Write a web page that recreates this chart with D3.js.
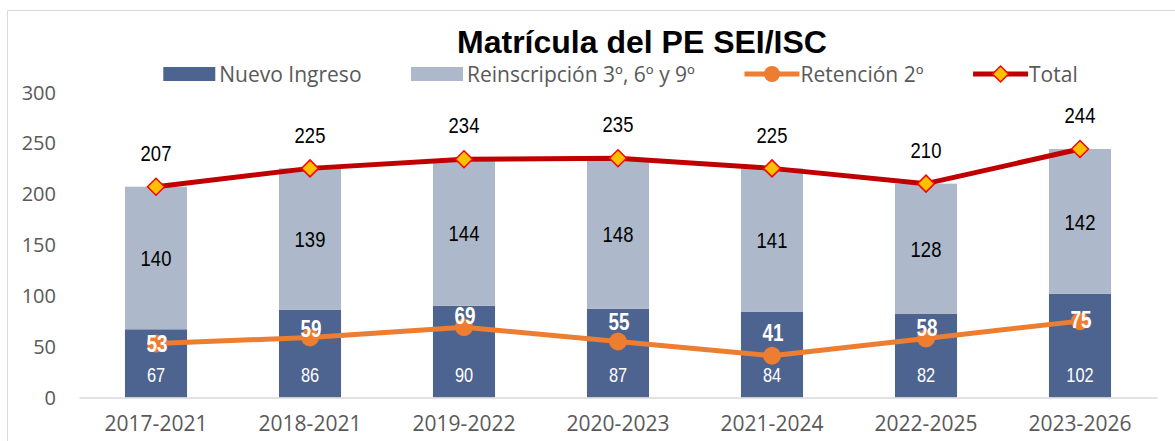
<!DOCTYPE html>
<html>
<head>
<meta charset="utf-8">
<script src="https://cdn.jsdelivr.net/npm/d3@7"></script>
<style>
  html, body { margin: 0; padding: 0; background: #fff; }
  svg { display: block; }
</style>
</head>
<body>
<svg id="chart" width="1175" height="441"></svg>
<script>
// ---- data ----
const categories = ["2017-2021", "2018-2021", "2019-2022", "2020-2023", "2021-2024", "2022-2025", "2023-2026"];
const nuevoIngreso = [67, 86, 90, 87, 84, 82, 102];
const reinscripcion = [140, 139, 144, 148, 141, 128, 142];
const retencion = [53, 59, 69, 55, 41, 58, 75];
const total = [207, 225, 234, 235, 225, 210, 244];
const yTicks = [0, 50, 100, 150, 200, 250, 300];
const seriesNames = ["Nuevo Ingreso", "Reinscripción 3º, 6º y 9º", "Retención 2º", "Total"];
const titleText = "Matrícula del PE SEI/ISC";
// label nudges for the Retención labels (pixels, vertical)
const retLabelDy = [0, -9, -11, -20, -23, -11, -1];

// ---- style ----
const C_NUEVO = "#4D6390";
const C_REINS = "#ADB8CA";
const C_RET = "#ED7D31";
const C_TOTAL = "#C00000";
const C_DIAM_FILL = "#FFC000";
const C_DIAM_STROKE = "#FF0000";
const AXIS_FONT = "'Open Sans', 'DejaVu Sans', sans-serif";
const LABEL_FONT = "'Liberation Sans', Arial, sans-serif";
const NARROW_X = 0.82;

const svg = d3.select("#chart");

// frame
svg.append("path")
  .attr("d", "M7.5,441 V10.5 H1175")
  .attr("fill", "none").attr("stroke", "#D9D9D9").attr("stroke-width", 1);

const plot = { left: 79, right: 1157, top: 92, bottom: 397.5 };

const x = d3.scaleBand().domain(categories)
  .range([plot.left, plot.right])
  .paddingInner(0.597).paddingOuter(0.2985);
const y = d3.scaleLinear().domain([0, 300]).range([plot.bottom, plot.top]);
const cx = c => x(c) + x.bandwidth() / 2;

// title
svg.append("text")
  .attr("x", 642).attr("y", 42)
  .attr("text-anchor", "middle").attr("dominant-baseline", "central")
  .style("font-family", LABEL_FONT)
  .style("font-weight", "bold").style("font-size", "32px").style("fill", "#000")
  .text(titleText);

// y axis
const yAxis = svg.append("g").attr("transform", `translate(${plot.left},0)`)
  .call(d3.axisLeft(y).tickValues(yTicks).tickSize(0).tickPadding(23));
yAxis.select(".domain").remove();
yAxis.selectAll("text")
  .style("font-family", AXIS_FONT).style("font-size", "20px").style("fill", "#595959")
  .attr("dy", "0.35em");

// bars
const rows = categories.map((c, i) => ({ c, n: nuevoIngreso[i], r: reinscripcion[i], ret: retencion[i], t: total[i], i }));

svg.append("g").selectAll("rect").data(rows).join("rect")
  .attr("x", d => x(d.c)).attr("width", x.bandwidth())
  .attr("y", d => y(d.n)).attr("height", d => y(0) - y(d.n))
  .attr("fill", C_NUEVO);
svg.append("g").selectAll("rect").data(rows).join("rect")
  .attr("x", d => x(d.c)).attr("width", x.bandwidth())
  .attr("y", d => y(d.n + d.r)).attr("height", d => y(d.n) - y(d.n + d.r))
  .attr("fill", C_REINS);

// x axis
const xAxis = svg.append("g").attr("transform", `translate(0,${plot.bottom})`)
  .call(d3.axisBottom(x).tickSize(0).tickSizeOuter(0).tickPadding(19));
xAxis.select(".domain").attr("stroke", "#D9D9D9").attr("stroke-width", 1.5);
xAxis.selectAll("text")
  .style("font-family", AXIS_FONT).style("font-size", "21px").style("fill", "#595959");

// lines
svg.append("path").datum(rows)
  .attr("d", d3.line().x(d => cx(d.c)).y(d => y(d.t)))
  .attr("fill", "none").attr("stroke", C_TOTAL).attr("stroke-width", 5).attr("stroke-linejoin", "round");
svg.append("path").datum(rows)
  .attr("d", d3.line().x(d => cx(d.c)).y(d => y(d.ret)))
  .attr("fill", "none").attr("stroke", C_RET).attr("stroke-width", 5).attr("stroke-linejoin", "round");

// markers
const diamond = (px, py, s) => `M${px},${py - s} L${px + s},${py} L${px},${py + s} L${px - s},${py} Z`;
svg.append("g").selectAll("path").data(rows).join("path")
  .attr("d", d => diamond(cx(d.c), y(d.t), 8.5))
  .attr("fill", C_DIAM_FILL).attr("stroke", C_DIAM_STROKE).attr("stroke-width", 1.5);
svg.append("g").selectAll("circle").data(rows).join("circle")
  .attr("cx", d => cx(d.c)).attr("cy", d => y(d.ret)).attr("r", 9)
  .attr("fill", C_RET);

// labels (condensed by horizontal scaling)
const lbl = (data, fx, fy, size, color, weight) =>
  svg.append("g").selectAll("text").data(data).join("text")
    .attr("transform", d => `translate(${fx(d)},${fy(d)}) scale(${NARROW_X},1)`)
    .attr("text-anchor", "middle").attr("dominant-baseline", "central")
    .style("font-family", LABEL_FONT).style("font-size", size + "px")
    .style("font-weight", weight).style("fill", color);

lbl(rows, d => cx(d.c), d => y(d.t) - 34, 22.5, "#000", "normal").text(d => d.t);
lbl(rows, d => cx(d.c), d => y(d.n + d.r / 2), 22.5, "#000", "normal").text(d => d.r);
lbl(rows, d => cx(d.c), d => y(0) - 23, 20, "#fff", "normal").text(d => d.n);
lbl(rows, d => cx(d.c) + 1, d => y(d.ret) + retLabelDy[d.i], 23, "#fff", "bold").text(d => d.ret);

// legend
const legY = 74;
const items = svg.append("g").selectAll("g").data(seriesNames).join("g");
items.append("text")
  .attr("x", 56).attr("y", legY).attr("dominant-baseline", "central")
  .style("font-family", AXIS_FONT).style("font-size", "21px").style("fill", "#595959")
  .text(d => d);
items.each(function (d, i) {
  const g = d3.select(this);
  if (i < 2) {
    g.append("rect").attr("x", 0).attr("y", legY - 7).attr("width", 52).attr("height", 14)
      .attr("fill", i === 0 ? C_NUEVO : C_REINS);
  } else if (i === 2) {
    g.append("line").attr("x1", 0).attr("x2", 55).attr("y1", legY).attr("y2", legY)
      .attr("stroke", C_RET).attr("stroke-width", 5);
    g.append("circle").attr("cx", 27.5).attr("cy", legY).attr("r", 8).attr("fill", C_RET);
  } else {
    g.append("line").attr("x1", 0).attr("x2", 55).attr("y1", legY).attr("y2", legY)
      .attr("stroke", C_TOTAL).attr("stroke-width", 5);
    g.append("path").attr("d", diamond(27.5, legY, 8))
      .attr("fill", C_DIAM_FILL).attr("stroke", C_DIAM_STROKE).attr("stroke-width", 1.5);
  }
});
const widths = [];
items.each(function () { widths.push(56 + d3.select(this).select("text").node().getComputedTextLength()); });
const gap = 49.5;
const totalW = d3.sum(widths) + gap * (widths.length - 1);
let lx = 620.5 - totalW / 2;
items.each(function (d, i) {
  d3.select(this).attr("transform", `translate(${lx},0)`);
  lx += widths[i] + gap;
});
</script>
</body>
</html>
